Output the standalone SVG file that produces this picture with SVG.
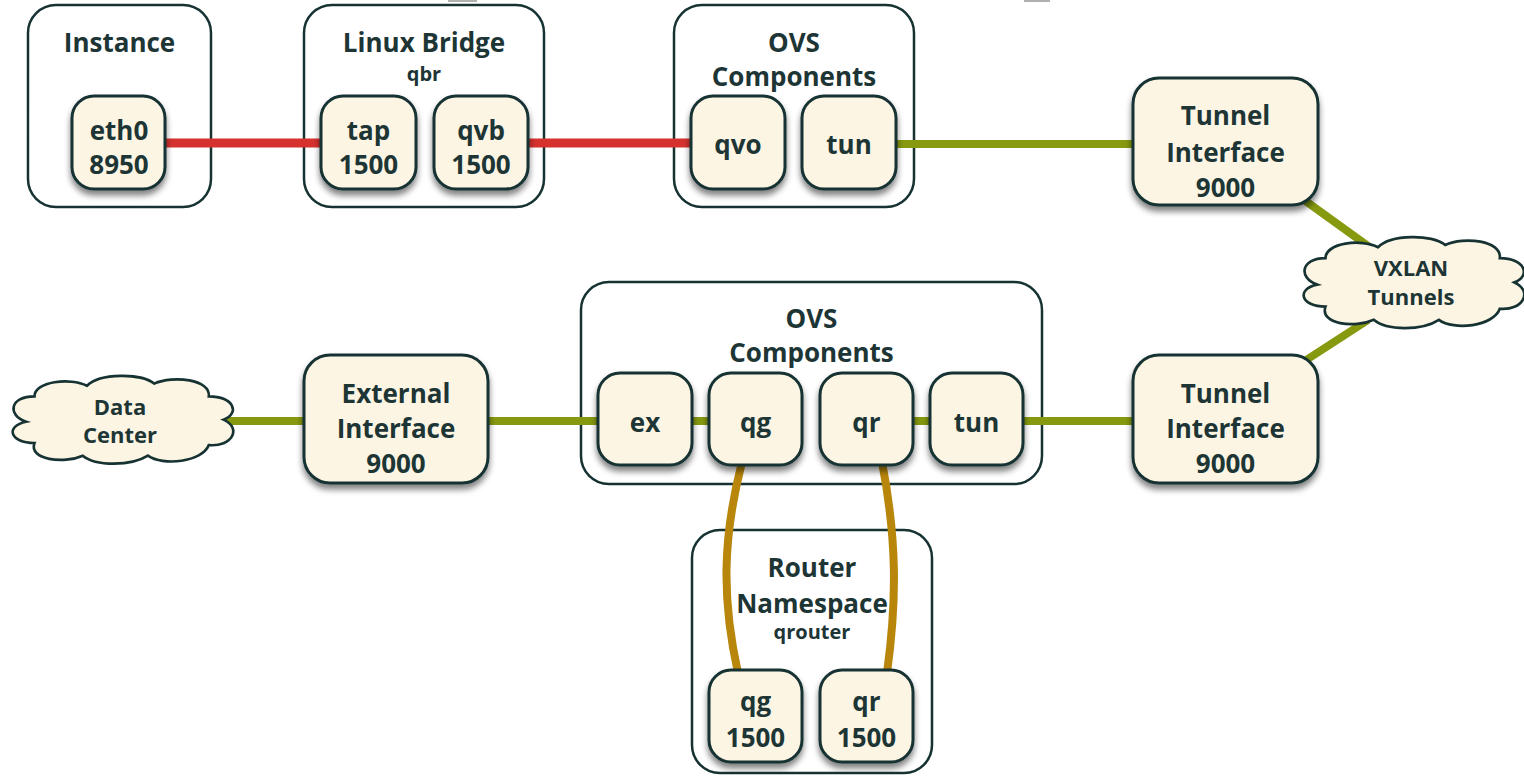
<svg xmlns="http://www.w3.org/2000/svg" width="1524" height="779" viewBox="0 0 1524 779">
  <style>
    .box { fill: #ffffff; stroke: #163232; stroke-width: 2.5; }
    .node { fill: #fcf5e4; stroke: #163232; stroke-width: 3; filter: url(#shadow); }
    .cloud { fill: #fcf5e4; stroke: #163232; stroke-width: 2.5; }
    text { font-family: "Open Sans", "Noto Sans", "DejaVu Sans", sans-serif; font-weight: 700; fill: #1e3535; text-anchor: middle; }
    .t { font-size: 26px; }
    .s { font-size: 20px; }
    .c { font-size: 22px; }
    .red { stroke: #d5322f; stroke-width: 9; fill: none; }
    .green { stroke: #86990f; stroke-width: 8; fill: none; }
    .gold { stroke: #b8860b; stroke-width: 8; fill: none; }
  </style>
  <defs>
    <filter id="shadow" x="-20%" y="-20%" width="140%" height="150%">
      <feGaussianBlur in="SourceAlpha" stdDeviation="3"/>
      <feOffset dx="0" dy="5" result="b"/>
      <feComponentTransfer><feFuncA type="linear" slope="0.5"/></feComponentTransfer>
      <feMerge><feMergeNode/><feMergeNode in="SourceGraphic"/></feMerge>
    </filter>
    <path id="cloudShape" d="M 22,46 C 4,40 6,22 30,22 C 30,8 64,4 80,12 C 92,0 132,0 144,10 C 162,2 198,6 196,22 C 220,22 226,38 210,44 C 228,52 218,70 196,68 C 190,84 152,88 138,78 C 122,88 88,88 76,78 C 58,86 24,82 30,66 C 6,66 2,50 22,46 Z"/>
  </defs>

  <!-- edge marks at the top border -->
  <rect x="448" y="0" width="29" height="2" fill="#b0b0b0"/>
  <rect x="1024" y="0" width="26" height="2" fill="#b0b0b0"/>

  <!-- containers -->
  <g id="instance">
    <rect class="box" x="28" y="5" width="183" height="202" rx="28"/>
    <text class="t" x="119.5" y="52">Instance</text>
  </g>
  <g id="linux-bridge">
    <rect class="box" x="304" y="5" width="240" height="202" rx="28"/>
    <text class="t" x="424" y="52">Linux Bridge</text>
    <text class="s" x="424" y="81">qbr</text>
  </g>
  <g id="ovs-top">
    <rect class="box" x="674" y="5" width="240" height="202" rx="28"/>
    <text class="t" x="794" y="52">OVS</text>
    <text class="t" x="794" y="86">Components</text>
  </g>
  <g id="ovs-bottom">
    <rect class="box" x="581" y="282" width="461" height="202" rx="28"/>
    <text class="t" x="811.5" y="328">OVS</text>
    <text class="t" x="811.5" y="362">Components</text>
  </g>
  <g id="router-namespace">
    <rect class="box" x="692" y="530" width="240" height="243" rx="28"/>
    <text class="t" x="812" y="577">Router</text>
    <text class="t" x="812" y="613">Namespace</text>
    <text class="s" x="812" y="639">qrouter</text>
  </g>

  <!-- connectors -->
  <g id="connectors">
    <path class="red" d="M 160,143 H 326"/>
    <path class="red" d="M 522,143 H 696"/>
    <path class="green" d="M 890,144 H 1138"/>
    <path class="green" d="M 1300,197 L 1368,246"/>
    <path class="green" d="M 1368,320 L 1300,364"/>
    <path class="green" d="M 1018,421 H 1138"/>
    <path class="green" d="M 908,421 H 935"/>
    <path class="green" d="M 687,421 H 714"/>
    <path class="green" d="M 483,421 H 603"/>
    <path class="green" d="M 220,421 H 309"/>
    <path class="gold" d="M 742,462 C 722,540 722,600 738,673"/>
    <path class="gold" d="M 882,462 C 897,540 897,600 887,673"/>
  </g>

  <!-- interface nodes -->
  <g id="eth0">
    <rect class="node" x="72" y="96" width="93" height="93" rx="22"/>
    <text class="t" x="119" y="140">eth0</text>
    <text class="t" x="119" y="174">8950</text>
  </g>
  <g id="tap">
    <rect class="node" x="321" y="96" width="95" height="93" rx="22"/>
    <text class="t" x="368.5" y="140">tap</text>
    <text class="t" x="368.5" y="174">1500</text>
  </g>
  <g id="qvb">
    <rect class="node" x="434" y="96" width="94" height="93" rx="22"/>
    <text class="t" x="481" y="140">qvb</text>
    <text class="t" x="481" y="174">1500</text>
  </g>
  <g id="qvo">
    <rect class="node" x="691" y="96" width="94" height="93" rx="22"/>
    <text class="t" x="738" y="154">qvo</text>
  </g>
  <g id="tun-top">
    <rect class="node" x="802" y="96" width="94" height="93" rx="22"/>
    <text class="t" x="849" y="154">tun</text>
  </g>
  <g id="tunnel-interface-top">
    <rect class="node" x="1133" y="78" width="185" height="127" rx="26"/>
    <text class="t" x="1225.5" y="125">Tunnel</text>
    <text class="t" x="1225.5" y="162">Interface</text>
    <text class="t" x="1225.5" y="197">9000</text>
  </g>
  <g id="vxlan-tunnels">
    <use href="#cloudShape" class="cloud" transform="translate(1294,234) scale(1.05,1.1)"/>
    <text class="c" x="1411" y="276">VXLAN</text>
    <text class="c" x="1411" y="305">Tunnels</text>
  </g>
  <g id="tunnel-interface-bottom">
    <rect class="node" x="1133" y="355" width="185" height="128" rx="26"/>
    <text class="t" x="1225.5" y="403">Tunnel</text>
    <text class="t" x="1225.5" y="438">Interface</text>
    <text class="t" x="1225.5" y="473">9000</text>
  </g>
  <g id="data-center">
    <use href="#cloudShape" class="cloud" transform="translate(3,373) scale(1.05,1.06)"/>
    <text class="c" x="120" y="415">Data</text>
    <text class="c" x="120" y="443">Center</text>
  </g>
  <g id="external-interface">
    <rect class="node" x="304" y="355" width="184" height="128" rx="26"/>
    <text class="t" x="396" y="403">External</text>
    <text class="t" x="396" y="438">Interface</text>
    <text class="t" x="396" y="473">9000</text>
  </g>
  <g id="ex">
    <rect class="node" x="598" y="373" width="94" height="92" rx="22"/>
    <text class="t" x="645" y="432">ex</text>
  </g>
  <g id="qg-ovs">
    <rect class="node" x="709" y="373" width="93" height="92" rx="22"/>
    <text class="t" x="755.5" y="432">qg</text>
  </g>
  <g id="qr-ovs">
    <rect class="node" x="820" y="373" width="93" height="92" rx="22"/>
    <text class="t" x="866.5" y="432">qr</text>
  </g>
  <g id="tun-bottom">
    <rect class="node" x="930" y="373" width="93" height="92" rx="22"/>
    <text class="t" x="976.5" y="432">tun</text>
  </g>
  <g id="qg-router">
    <rect class="node" x="709" y="670" width="93" height="92" rx="22"/>
    <text class="t" x="755.5" y="711">qg</text>
    <text class="t" x="755.5" y="747">1500</text>
  </g>
  <g id="qr-router">
    <rect class="node" x="820" y="670" width="93" height="92" rx="22"/>
    <text class="t" x="866.5" y="711">qr</text>
    <text class="t" x="866.5" y="747">1500</text>
  </g>
</svg>
